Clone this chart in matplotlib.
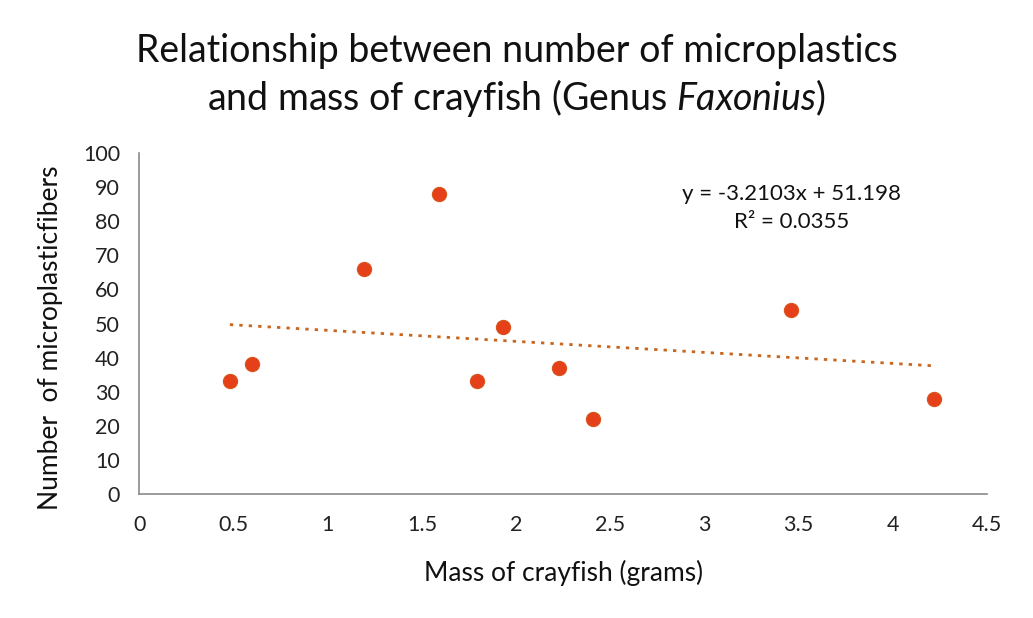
import numpy as np
import matplotlib
matplotlib.use("Agg")
import matplotlib.pyplot as plt

plt.rcParams['font.family'] = ['Lato', 'DejaVu Sans']
plt.rcParams['mathtext.fontset'] = 'custom'
plt.rcParams['mathtext.rm'] = 'Lato'
plt.rcParams['mathtext.it'] = 'Lato:italic'

mass_g = [0.48, 0.595, 1.19, 1.59, 1.79, 1.93, 2.23, 2.41, 3.46, 4.22]
fibers = [33, 38, 66, 88, 33, 49, 37, 22, 54, 28]
x_ticks = [0, 0.5, 1, 1.5, 2, 2.5, 3, 3.5, 4, 4.5]
x_tick_labels = ["0", "0.5", "1", "1.5", "2", "2.5", "3", "3.5", "4", "4.5"]
y_ticks = [0, 10, 20, 30, 40, 50, 60, 70, 80, 90, 100]
equation_text = "y = -3.2103x + 51.198\nR² = 0.0355"

fig = plt.figure(figsize=(10.33, 6.18), dpi=100)
ax = fig.add_axes([0.135, 0.2006, 0.8205, 0.5518])

xs = np.array(mass_g)
ys = np.array(fibers)
slope, intercept = np.polyfit(xs, ys, 1)
xl = np.array([xs.min(), xs.max()])
ax.plot(xl, slope * xl + intercept, color='#C8651E', lw=2.0,
        linestyle=(0, (1.2, 2.2)), dash_capstyle='butt', zorder=2)

ax.scatter(xs, ys, s=105, color='#E5401A', edgecolor='#D8561E', linewidth=0.8, zorder=3)

ax.set_xlim(0, 4.5)
ax.set_ylim(0, 100)
ax.set_xticks(x_ticks)
ax.set_xticklabels(x_tick_labels)
ax.set_yticks(y_ticks)
ax.tick_params(axis='both', length=0, labelsize=15.5, colors='#222222')
ax.tick_params(axis='x', pad=15)
ax.tick_params(axis='y', pad=14)

for side in ['top', 'right']:
    ax.spines[side].set_visible(False)
for side in ['left', 'bottom']:
    ax.spines[side].set_color('#8a8a8a')
    ax.spines[side].set_linewidth(1.2)

ax.set_xlabel("Mass of crayfish (grams)", fontsize=19, color='#111111', va='center')
ax.set_ylabel("Number  of microplasticfibers", fontsize=19, color='#111111', va='center')
ax.xaxis.set_label_coords(0.5, -0.232)
ax.yaxis.set_label_coords(-0.1055, 0.457)

ax.text(3.46, 83.8, equation_text, ha='center', va='center', fontsize=16,
        linespacing=1.5, color='#111111')

fig.text(0.5, 0.918, "Relationship between number of microplastics", ha='center', va='center',
         fontsize=27, color='#111111')
fig.text(0.5, 0.842, "and mass of crayfish (Genus $\\mathit{Faxonius}$$\\mathit{)}$", ha='center', va='center',
         fontsize=27, color='#111111')

fig.savefig("out.png", dpi=100)
